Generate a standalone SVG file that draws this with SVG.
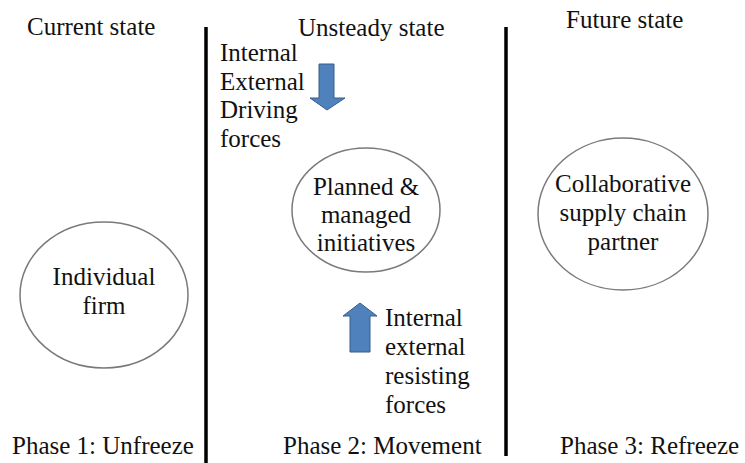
<svg xmlns="http://www.w3.org/2000/svg" width="745" height="463" viewBox="0 0 745 463">
<style>
.t{font-family:"Liberation Serif","Times New Roman",serif;font-size:25px;fill:#111}
.c{text-anchor:middle}
.node{fill:#fff;stroke:#7a7a7a;stroke-width:1.5}
.div{stroke:#000;stroke-width:3.5}
.arrow{fill:#4f81bd;stroke:#385d8a;stroke-width:1}
</style>
<rect width="745" height="463" fill="#fff"/>
<g id="headers">
<text class="t" x="27" y="35">Current state</text>
<text class="t" x="298" y="36">Unsteady state</text>
<text class="t" x="566" y="28">Future state</text>
</g>
<g id="dividers">
<line class="div" x1="206" y1="27" x2="206" y2="463"/>
<line class="div" x1="506" y1="27" x2="506" y2="456"/>
</g>
<g id="individual">
<ellipse class="node" cx="104" cy="295" rx="84" ry="73"/>
<text class="t c" x="104" y="285">Individual</text>
<text class="t c" x="104" y="314">firm</text>
</g>
<g id="planned">
<ellipse class="node" cx="366" cy="210" rx="74" ry="62"/>
<text class="t c" x="366" y="195">Planned &amp;</text>
<text class="t c" x="366" y="223">managed</text>
<text class="t c" x="366" y="251">initiatives</text>
</g>
<g id="collaborative">
<ellipse class="node" cx="623" cy="214" rx="85" ry="76"/>
<text class="t c" x="623" y="192">Collaborative</text>
<text class="t c" x="623" y="221">supply chain</text>
<text class="t c" x="623" y="250">partner</text>
</g>
<g id="driving">
<text class="t" x="220" y="61">Internal</text>
<text class="t" x="220" y="90">External</text>
<text class="t" x="220" y="118">Driving</text>
<text class="t" x="220" y="147">forces</text>
</g>
<g id="resisting">
<text class="t" x="385" y="326">Internal</text>
<text class="t" x="385" y="355">external</text>
<text class="t" x="385" y="384">resisting</text>
<text class="t" x="385" y="413">forces</text>
</g>
<g id="connectors">
<polygon class="arrow" points="319,64 334,64 334,98 345,98 327,110 310,98 319,98"/>
<polygon class="arrow" points="360,303 377,316 370,316 370,352 350,352 350,316 343,316"/>
</g>
<g id="phases">
<text class="t" x="12" y="454">Phase 1: Unfreeze</text>
<text class="t" x="283" y="454">Phase 2: Movement</text>
<text class="t" x="560" y="454">Phase 3: Refreeze</text>
</g>
</svg>
